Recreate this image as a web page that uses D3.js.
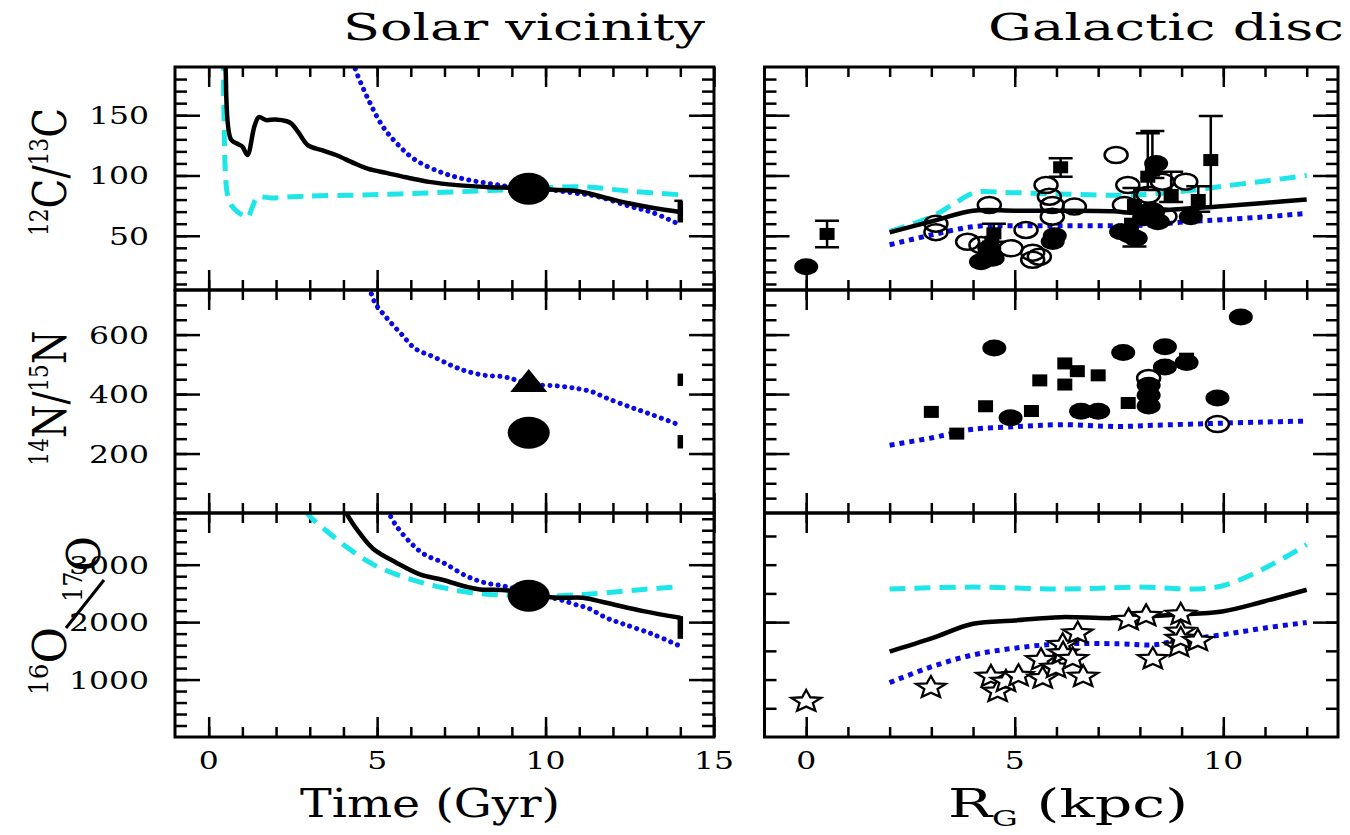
<!DOCTYPE html>
<html><head><meta charset="utf-8">
<script src="https://cdn.jsdelivr.net/npm/d3@7"></script>
<style>body{margin:0;background:#fff}svg{display:block}</style>
</head><body><svg id="c" width="1350" height="835"></svg>
<script>
// ---------------- DATA ----------------
// Solar vicinity (time, Gyr)
const solarC_black = [[0.48,200],[0.5,190],[0.66,130],[0.87,126],[1.0,124],[1.15,117],[1.36,141],[1.49,148.5],[1.7,146],[1.98,146.5],[2.32,145],[2.46,143],[2.67,135.5],[2.95,125],[3.36,121],[3.78,117],[4.33,110],[4.74,105.5],[5.3,102],[5.85,98.5],[6.54,94.7],[7.37,92],[8.34,90.3],[9.03,89.7],[10.1,88.3],[10.97,87],[11.8,81.4],[12.5,76.7],[13.2,73],[14.0,69.7]];
const solarC_cyan = [[0.43,200],[0.46,140],[0.5,100],[0.56,84],[0.68,75],[0.85,70],[1.0,67],[1.15,65],[1.3,74],[1.45,82],[1.84,81.4],[2.8,82.8],[4.88,84],[6.96,86],[9.03,88.3],[11.1,90.5],[12.5,87],[14,84]];
const solarC_blue = [[4.25,200],[4.33,190],[4.74,163],[5.16,141],[5.57,127],[6.13,113],[6.96,102],[7.65,96.7],[8.34,93.3],[9.03,90.5],[10.1,88.3],[10.8,85.6],[11.5,82.8],[12.5,74.4],[13.2,69],[14,59]];
const solarN_blue = [[4.75,760],[4.79,749],[4.95,704],[5.3,654],[5.71,603],[6.13,553],[6.68,525],[7.23,495],[7.65,477],[8.2,463],[8.76,458],[9.17,446],[9.72,432],[10.4,427],[10.97,418],[11.4,407],[11.8,387],[12.5,357],[13.2,329],[14,295]];
const solarO_cyan = [[2.9,3950],[2.95,3878],[3.5,3587],[4.19,3267],[4.88,3006],[5.57,2831],[6.27,2698],[6.96,2599],[7.65,2523],[8.34,2483],[9.03,2465],[10.1,2453],[11.1,2483],[11.8,2512],[12.9,2570],[14,2616]];
const solarO_black = [[4.05,3950],[4.08,3907],[4.47,3558],[4.88,3279],[5.57,3035],[6.27,2831],[6.96,2733],[7.65,2616],[8.06,2570],[8.9,2552],[9.72,2465],[10.4,2424],[11.1,2424],[11.8,2337],[12.9,2192],[14,2076]];
const solarO_blue = [[5.3,3950],[5.34,3907],[5.57,3674],[5.99,3384],[6.4,3180],[6.96,3035],[7.65,2802],[8.2,2686],[8.76,2628],[9.17,2570],[9.72,2483],[10.4,2395],[10.97,2291],[11.24,2250],[11.8,2076],[12.35,1959],[13.2,1785],[14,1581]];
// Sun (t = 9.5 Gyr) and present-day ISM ranges (t = 14 Gyr)
const sunC = [[9.5,89]];
const sunN_circle = [[9.5,270]];
const sunN_triangle = [[9.5,437]];
const sunO = [[9.5,2460]];
const ismC = [[14,61,79]];
const ismN = [[14,427,469],[14,217,262]];
const ismO = [[14,1709,2105]];

// Galactic disc (R_G, kpc)
const discC_cyan = [[2,53.6],[3.02,66],[3.56,77],[4.06,86],[4.74,86],[5.64,85],[6.54,84.2],[7.54,83.6],[8.35,84.7],[9.25,87.8],[9.97,91],[10.97,95.3],[12,100]];
const discC_black = [[2,52.8],[3.1,62.8],[4.0,70.8],[5,70.8],[6.1,70.8],[7.36,70.3],[7.9,68.9],[8.8,71.7],[9.97,74.4],[10.97,77.2],[12,80]];
const discC_blue = [[2,42.5],[3.02,50.8],[4.06,57.8],[5,58.3],[6.1,58.3],[7.5,58.3],[8.35,59.2],[9.25,62],[9.97,63.3],[10.97,65.6],[11.9,68.3]];
const discN_blue = [[2,228],[3.02,253],[3.61,271],[4.0,282],[5.0,290],[6.1,297],[7.45,291],[8.35,295],[9.7,301],[10.97,306],[11.96,309]];
const discO_cyan = [[2,2576],[4,2610],[6.1,2576],[7.9,2610],[9.97,2630],[12,3350]];
const discO_black = [[2,1488],[3.02,1721],[4,1971],[5,2029],[6.1,2087],[7.36,2070],[8.8,2128],[9.97,2186],[10.97,2360],[12,2564]];
const discO_blue = [[2,948],[3.02,1227],[4,1430],[5,1547],[6.1,1622],[7.5,1622],[8.35,1605],[8.8,1663],[9.97,1779],[10.97,1895],[12,1994]];

const discC_filled = [[0,24.3],[4.19,28.5],[4.47,31.3],[4.39,39.6],[5.91,45.3],[5.96,50],[7.55,53.4],[7.75,50.6],[7.9,47.9],[8.27,71.4],[8.43,61.7],[8.39,110],[9.22,65.8],[8.1,65]];
const discC_open = [[3.11,60],[3.11,53],[4.39,75.5],[3.87,45],[4.19,42.3],[4.91,39.6],[5.27,54.8],[5.43,36],[5.43,30],[5.75,92.1],[5.83,82.4],[5.9,75.5],[5.9,65.8],[5.59,32.6],[6.43,74.2],[7.43,117],[7.71,92.1],[7.63,75.5],[8.54,94.9],[9.1,94.9],[8.2,84],[8.3,70],[8.6,66]];
const discC_sqR  = [0.5, 4.5, 6.1, 7.87, 8.19, 8.3, 8.75, 9.4, 9.7, 4.45, 7.8];
const discC_sqV  = [51.5, 52, 106.8, 75.5, 99, 104, 83.8, 79.7, 112.8, 45, 60];
const discC_sqLo = [40.4, 45, 99, 41, 88, 98, 78, 70, 74, 45, 60];
const discC_sqHi = [62.5, 60, 114.3, 89.6, 135, 137, 103, 91, 149.4, 45, 60];

const discN_filled = [[4.51,555],[4.9,320],[6.59,342],[7.0,342],[7.6,540],[8.21,430],[8.21,396],[8.21,360],[8.6,559],[8.6,491],[9.12,506],[9.86,387],[10.42,659]];
const discN_open = [[8.21,454],[9.86,299]];
const discN_sq = [[3.0,340],[3.61,267],[4.3,359],[5.4,343],[5.6,446],[6.2,503],[6.2,432],[6.5,477],[7.0,463],[7.72,370],[9.12,519]];

const discO_stars = [[0,645],[2.99,888],[4.43,1080],[4.59,818],[4.79,993],[5.09,1092],[5.67,1050],[5.63,1370],[5.99,1236],[6.15,1632],[6.16,1485],[6.39,1388],[6.51,1834],[6.64,1080],[7.73,2067],[8.15,2136],[8.31,1388],[8.98,2160],[8.98,1863],[8.94,1602],[8.98,1740],[9.39,1703]];

// tick labels
const timeTickLabels = [0,5,10,15];
const rgTickLabels = [0,5,10];
const cTickLabels = [50,100,150];
const nTickLabels = [200,400,600];
const oTickLabels = [1000,2000,3000];

// ---------------- LAYOUT ----------------
const svg = d3.select("#c");
const FONT = "DejaVu Serif";
const SX = 1.35;
const colL = [175, 714], colR = [764.5, 1338];
const rows = [[67,290],[290,513],[513,737]];
const xT = d3.scaleLinear().domain([-1,15]).range(colL);
const xR = d3.scaleLinear().domain([-1,12.75]).range(colR);
const yC = d3.scaleLinear().domain([5,190]).range([rows[0][1], rows[0][0]]);
const yN = d3.scaleLinear().domain([0,750]).range([rows[1][1], rows[1][0]]);
const yO = d3.scaleLinear().domain([0,3900]).range([rows[2][1], rows[2][0]]);

const CYAN = "#1ee6e8", BLUE = "#0a0ae6";

const panels = [
  {id:"tl", x:xT, y:yC, xMin:d3.range(0,15), xMaj:[0,5,10,15], yMin:d3.range(10,190,10), yMaj:[50,100,150]},
  {id:"ml", x:xT, y:yN, xMin:d3.range(0,15), xMaj:[0,5,10,15], yMin:d3.range(50,750,50), yMaj:[200,400,600]},
  {id:"bl", x:xT, y:yO, xMin:d3.range(0,15), xMaj:[0,5,10,15], yMin:d3.range(200,3900,200), yMaj:[1000,2000,3000]},
  {id:"tr", x:xR, y:yC, xMin:d3.range(0,13), xMaj:[0,5,10], yMin:d3.range(10,190,10), yMaj:[50,100,150]},
  {id:"mr", x:xR, y:yN, xMin:d3.range(0,13), xMaj:[0,5,10], yMin:d3.range(50,750,50), yMaj:[200,400,600]},
  {id:"br", x:xR, y:yO, xMin:d3.range(0,13), xMaj:[0,5,10], yMin:d3.range(500,3900,500), yMaj:[2000]}
];

const defs = svg.append("defs");
panels.forEach(p => {
  const [x0,x1] = p.x.range(), [y1,y0] = p.y.range();
  defs.append("clipPath").attr("id","clip-"+p.id).append("rect")
    .attr("x",x0).attr("y",y0).attr("width",x1-x0).attr("height",y1-y0);
  const g = svg.append("g").attr("class","axes");
  const addAxis = (axis, tf) => g.append("g").attr("transform",tf).call(axis)
      .call(a => a.select(".domain").remove())
      .call(a => a.selectAll("line").attr("stroke","#000").attr("stroke-width",2.5))
      .call(a => a.selectAll("text").remove());
  addAxis(d3.axisBottom(p.x).tickValues(p.xMin).tickSize(-10), `translate(0,${y1})`);
  addAxis(d3.axisBottom(p.x).tickValues(p.xMaj).tickSize(-20), `translate(0,${y1})`);
  addAxis(d3.axisTop(p.x).tickValues(p.xMin).tickSize(-10), `translate(0,${y0})`);
  addAxis(d3.axisTop(p.x).tickValues(p.xMaj).tickSize(-20), `translate(0,${y0})`);
  addAxis(d3.axisLeft(p.y).tickValues(p.yMin).tickSize(-12), `translate(${x0},0)`);
  addAxis(d3.axisLeft(p.y).tickValues(p.yMaj).tickSize(-25), `translate(${x0},0)`);
  addAxis(d3.axisRight(p.y).tickValues(p.yMin).tickSize(-12), `translate(${x1},0)`);
  addAxis(d3.axisRight(p.y).tickValues(p.yMaj).tickSize(-25), `translate(${x1},0)`);
  p.g = svg.append("g").attr("clip-path",`url(#clip-${p.id})`);
  p.frame = [x0,y0,x1,y1];
});
const P = Object.fromEntries(panels.map(p => [p.id,p]));

// ---------------- CURVES ----------------
function curve(p, data, style) {
  const line = d3.line().x(d=>p.x(d[0])).y(d=>p.y(d[1])).curve(d3.curveCatmullRom.alpha(0.5));
  const path = p.g.append("path").datum(data).attr("d",line).attr("fill","none")
    .attr("stroke-linejoin","round");
  if (style==="black") path.attr("stroke","#000").attr("stroke-width",4.5);
  if (style==="cyan") path.attr("stroke",CYAN).attr("stroke-width",5).attr("stroke-dasharray","16,9");
  if (style==="blueL") path.attr("stroke",BLUE).attr("stroke-width",5).attr("stroke-dasharray","0.1,7.2").attr("stroke-linecap","round");
  if (style==="blueR") path.attr("stroke",BLUE).attr("stroke-width",5).attr("stroke-dasharray","5,5");
}
curve(P.tl, solarC_cyan, "cyan");
curve(P.tl, solarC_blue, "blueL");
curve(P.tl, solarC_black, "black");
curve(P.ml, solarN_blue, "blueL");
curve(P.bl, solarO_cyan, "cyan");
curve(P.bl, solarO_blue, "blueL");
curve(P.bl, solarO_black, "black");

curve(P.tr, discC_cyan, "cyan");
curve(P.tr, discC_blue, "blueR");
curve(P.tr, discC_black, "black");
curve(P.mr, discN_blue, "blueR");
curve(P.br, discO_cyan, "cyan");
curve(P.br, discO_blue, "blueR");
curve(P.br, discO_black, "black");

// ---------------- MARKERS ----------------
function filled(p, data, rx, ry) {
  p.g.selectAll(null).data(data).enter().append("ellipse")
    .attr("cx",d=>p.x(d[0])).attr("cy",d=>p.y(d[1])).attr("rx",rx).attr("ry",ry).attr("fill","#000");
}
function open(p, data) {
  p.g.selectAll(null).data(data).enter().append("ellipse")
    .attr("cx",d=>p.x(d[0])).attr("cy",d=>p.y(d[1])).attr("rx",11.5).attr("ry",8)
    .attr("fill","none").attr("stroke","#000").attr("stroke-width",2.5);
}
function squares(p, data) {
  p.g.selectAll(null).data(data).enter().append("rect")
    .attr("x",d=>p.x(d[0])-7.5).attr("y",d=>p.y(d[1])-6).attr("width",15).attr("height",12).attr("fill","#000");
}
function errbars(p, data) {
  const g = p.g.selectAll(null).data(data.filter(d=>d[3]>d[2])).enter().append("g")
    .attr("stroke","#000").attr("stroke-width",2.5);
  g.append("line").attr("x1",d=>p.x(d[0])).attr("x2",d=>p.x(d[0])).attr("y1",d=>p.y(d[2])).attr("y2",d=>p.y(d[3]));
  g.append("line").attr("x1",d=>p.x(d[0])-12).attr("x2",d=>p.x(d[0])+12).attr("y1",d=>p.y(d[2])).attr("y2",d=>p.y(d[2]));
  g.append("line").attr("x1",d=>p.x(d[0])-12).attr("x2",d=>p.x(d[0])+12).attr("y1",d=>p.y(d[3])).attr("y2",d=>p.y(d[3]));
}
function starPath(cx, cy, r) {
  const pts = [];
  for (let i=0;i<10;i++) {
    const a = -Math.PI/2 + i*Math.PI/5, rr = i%2 ? r*0.45 : r;
    pts.push([cx + rr*Math.cos(a)*SX, cy + rr*Math.sin(a)]);
  }
  return "M" + pts.map(q=>q.join(",")).join("L") + "Z";
}
function stars(p, data) {
  p.g.selectAll(null).data(data).enter().append("path")
    .attr("d",d=>starPath(p.x(d[0]), p.y(d[1])+1.5, 11.5))
    .attr("fill","#fff").attr("stroke","#000").attr("stroke-width",2.3).attr("stroke-linejoin","miter");
}
function ism(p, data) {
  p.g.selectAll(null).data(data).enter().append("line")
    .attr("x1",d=>p.x(d[0])).attr("x2",d=>p.x(d[0])).attr("y1",d=>p.y(d[1])).attr("y2",d=>p.y(d[2]))
    .attr("stroke","#000").attr("stroke-width",5.5);
}

// Solar vicinity
ism(P.tl, ismC);
P.tl.g.selectAll(null).data(ismC).enter().append("line")
  .attr("x1",d=>P.tl.x(d[0])-6).attr("x2",d=>P.tl.x(d[0])+2).attr("y1",d=>P.tl.y(d[2])).attr("y2",d=>P.tl.y(d[2]))
  .attr("stroke","#000").attr("stroke-width",2.5);
ism(P.ml, ismN);
ism(P.bl, ismO);
filled(P.tl, sunC, 21, 16);
filled(P.ml, sunN_circle, 21, 16);
filled(P.bl, sunO, 21, 16);
P.ml.g.selectAll(null).data(sunN_triangle).enter().append("path")
  .attr("d", d => { const cx=P.ml.x(d[0]), cy=P.ml.y(d[1]); return `M${cx},${cy-14}L${cx+18.5},${cy+9}L${cx-18.5},${cy+9}Z`; })
  .attr("fill","#000");

// Galactic disc
const sqC = discC_sqR.map((r,i)=>[r, discC_sqV[i], discC_sqLo[i], discC_sqHi[i]]);
open(P.tr, discC_open);
errbars(P.tr, sqC);
squares(P.tr, sqC);
filled(P.tr, discC_filled, 12, 8.5);
filled(P.mr, discN_filled, 12, 8.5);
squares(P.mr, discN_sq);
open(P.mr, discN_open);
stars(P.br, discO_stars);

// ---------------- FRAMES ----------------
panels.forEach(p => {
  const [x0,y0,x1,y1] = p.frame;
  svg.append("rect").attr("x",x0).attr("y",y0).attr("width",x1-x0).attr("height",y1-y0)
    .attr("fill","none").attr("stroke","#000").attr("stroke-width",3);
});

// ---------------- TEXT ----------------
const DW = 20; // width per digit
function yLabels(scale, vals) {
  svg.append("g").selectAll(null).data(vals).enter().append("text")
    .attr("x", colL[0]-26).attr("y", d=>scale(d)+9)
    .attr("text-anchor","end").attr("font-family",FONT).attr("font-size",25)
    .attr("textLength", d=>String(d).length*DW).attr("lengthAdjust","spacingAndGlyphs")
    .text(d=>d);
}
yLabels(yC, cTickLabels);
yLabels(yN, nTickLabels);
yLabels(yO, oTickLabels);
function xLabels(scale, vals) {
  svg.append("g").selectAll(null).data(vals).enter().append("text")
    .attr("x", d=>scale(d)).attr("y", 769)
    .attr("text-anchor","middle").attr("font-family",FONT).attr("font-size",25)
    .attr("textLength", d=>String(d).length*DW).attr("lengthAdjust","spacingAndGlyphs")
    .text(d=>d);
}
xLabels(xT, timeTickLabels);
xLabels(xR, rgTickLabels);

function htext(str, x0, x1, y, size) {
  return svg.append("text").attr("x",x0).attr("y",y).attr("font-family",FONT).attr("font-size",size)
    .attr("textLength",x1-x0).attr("lengthAdjust","spacingAndGlyphs").text(str);
}
htext("Solar vicinity", 343, 705, 40, 38);
htext("Galactic disc", 988, 1344, 40, 38);
htext("Time (Gyr)", 300, 560, 817, 40);
const rg = svg.append("text").attr("x",948).attr("y",817).attr("font-family",FONT).attr("font-size",40)
  .attr("textLength",240).attr("lengthAdjust","spacingAndGlyphs");
rg.append("tspan").text("R");
rg.append("tspan").attr("font-size",22).attr("dy",9).text("G");
rg.append("tspan").attr("dy",-9).text(" (kpc)");

// rotated y-axis titles
function vlabel(x, y, parts, len, anchor) {
  const t = svg.append("text").attr("transform",`translate(${x},${y}) rotate(-90) scale(1,1.3)`)
    .attr("font-family",FONT).attr("font-size",36).attr("text-anchor",anchor||"middle");
  if (len) t.attr("textLength",len).attr("lengthAdjust","spacingAndGlyphs");
  let shift = 0;
  parts.forEach(([s, sup]) => {
    const ts = t.append("tspan").text(s);
    if (sup) { ts.attr("font-size",20).attr("dy",-14 - shift); shift = -14; }
    else { ts.attr("dy", -shift); shift = 0; }
  });
  return t;
}
vlabel(66, 172, [["12",1],["C",0],["/",0],["13",1],["C",0]], 128);
vlabel(66, 398, [["14",1],["N",0],["/",0],["15",1],["N",0]], 135);
vlabel(66, 695, [["16",1],["O",0]], 68, "start");
svg.append("line").attr("x1",66).attr("y1",628).attr("x2",104).attr("y2",580)
  .attr("stroke","#000").attr("stroke-width",3);
vlabel(100, 602, [["17",1],["O",0]], 66, "start");
</script></body></html>
